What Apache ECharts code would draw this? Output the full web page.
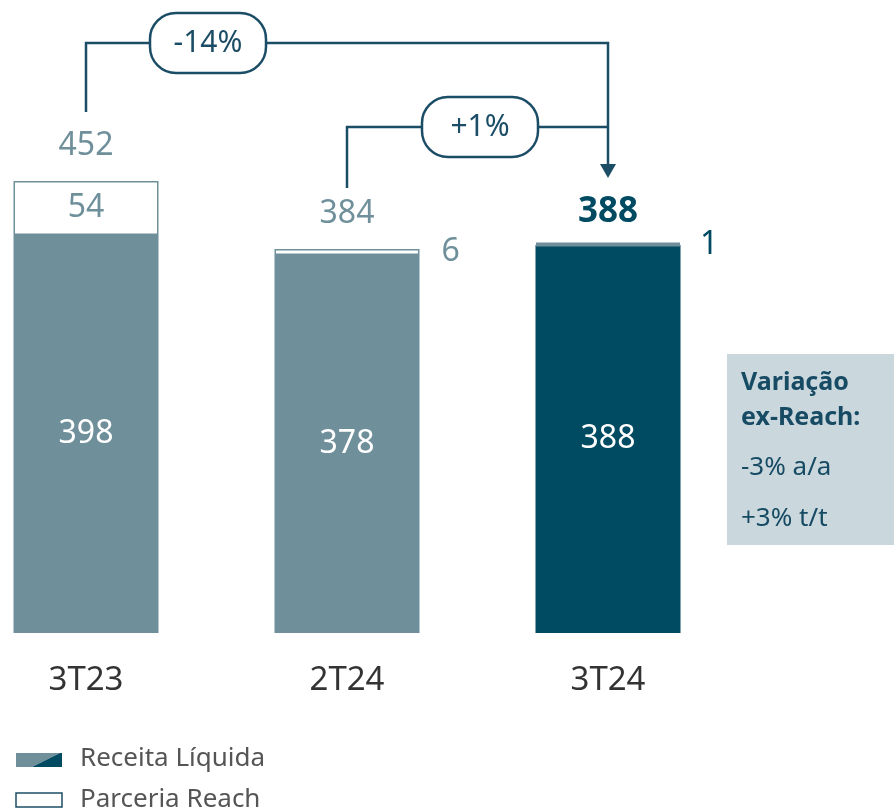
<!DOCTYPE html>
<html>
<head>
<meta charset="utf-8">
<script src="https://cdn.jsdelivr.net/npm/echarts@6/dist/echarts.min.js"></script>
<style>
  html, body { margin: 0; padding: 0; background: #fff; }
  #chart { width: 894px; height: 812px; }
</style>
</head>
<body>
<div id="chart"></div>
<script>
// dados
const categories = ['3T23', '2T24', '3T24'];
const receita = [398, 378, 388];
const reach = [54, 6, 1];
const totals = [452, 384, 388];
const variacoes = ['-14%', '+1%'];
const boxTitle = ['Variação', 'ex-Reach:'];
const boxLines = ['-3% a/a', '+3% t/t'];
const legendNames = ['Receita Líquida', 'Parceria Reach'];

const LIGHT = '#6f909b';
const DARK = '#004a62';
const LINE = '#1b4d66';
const FONT = '"Noto Sans", sans-serif';

let chart = echarts.init(document.getElementById('chart'));

let option = {
  animation: false,
  grid: { left: 86, right: 286, top: 33, bottom: 179 },
  xAxis: {
    type: 'category',
    data: categories,
    boundaryGap: false,
    axisLine: { show: false },
    axisTick: { show: false },
    axisLabel: { fontSize: 33, color: '#333', margin: 31, fontFamily: FONT }
  },
  yAxis: { type: 'value', min: 0, max: 600, show: false },
  series: [
    {
      name: legendNames[0],
      type: 'bar',
      stack: 'a',
      barWidth: 145,
      clip: false,
      data: receita.map((v, i) => ({
        value: v,
        itemStyle: { color: i === 2 ? DARK : LIGHT }
      })),
      label: {
        show: true, position: 'inside', color: '#fff',
        fontSize: 32, fontFamily: FONT
      }
    },
    {
      name: legendNames[1],
      type: 'bar',
      stack: 'a',
      barWidth: 145,
      clip: false,
      data: reach.map((v, i) => {
        if (i === 0) {
          return {
            value: v,
            itemStyle: { color: '#fff', borderColor: LIGHT, borderWidth: 1.5 },
            label: { show: true, position: 'inside', color: LIGHT }
          };
        }
        if (i === 1) {
          return {
            value: v,
            itemStyle: { color: '#fff', borderColor: LIGHT, borderWidth: 1.5 },
            label: { show: true, position: 'right', distance: 22, color: LIGHT }
          };
        }
        return {
          value: v,
          itemStyle: { color: LIGHT, borderColor: LIGHT, borderWidth: 4 },
          label: { show: true, position: 'right', distance: 18, color: DARK }
        };
      }),
      label: { fontSize: 32, fontFamily: FONT }
    },
    {
      type: 'scatter',
      symbolSize: 0,
      clip: false,
      itemStyle: { opacity: 1 },
      data: totals.map((v, i) => ({
        value: v,
        label: i === 2 ? { color: DARK, fontWeight: 'bold', fontSize: 35, distance: 15 } : {}
      })),
      label: {
        show: true, position: 'top', distance: 19,
        fontSize: 32, color: LIGHT, fontFamily: FONT
      }
    }
  ]
};
chart.setOption(option);

// anotações de variação
function px(i, v) {
  return chart.convertToPixel({ gridIndex: 0 }, [i, v]);
}
let p0 = px(0, totals[0]);
let p1 = px(1, totals[1]);
let p2 = px(2, totals[2]);
let topY = 43, midY = 127;
let tipY = p2[1] - 67;

function pill(cx, cy, text) {
  return {
    type: 'group',
    children: [
      {
        type: 'rect',
        shape: { x: cx - 58, y: cy - 30, width: 116, height: 60, r: 26 },
        style: { fill: '#fff', stroke: LINE, lineWidth: 2.5 }
      },
      {
        type: 'text',
        x: cx, y: cy,
        style: {
          text: text, fill: LINE, font: '30px ' + FONT,
          textAlign: 'center', textVerticalAlign: 'middle'
        }
      }
    ]
  };
}

let graphics = [
  {
    type: 'polyline',
    shape: { points: [[p0[0], p0[1] - 69], [p0[0], topY], [p2[0], topY], [p2[0], tipY - 12]] },
    style: { stroke: LINE, lineWidth: 2.5, fill: null }
  },
  {
    type: 'polyline',
    shape: { points: [[p1[0], p1[1] - 61], [p1[0], midY], [p2[0], midY]] },
    style: { stroke: LINE, lineWidth: 2.5, fill: null }
  },
  {
    type: 'polygon',
    shape: { points: [[p2[0] - 8, tipY - 14], [p2[0] + 8, tipY - 14], [p2[0], tipY]] },
    style: { fill: LINE }
  },
  pill(208, topY, variacoes[0]),
  pill(480, midY, variacoes[1]),
  // caixa ex-Reach
  {
    type: 'rect',
    shape: { x: 727, y: 354, width: 167, height: 191 },
    style: { fill: '#cad8de' }
  },
  {
    type: 'text', x: 741, y: 383,
    style: { text: boxTitle[0], fill: '#174a63', font: 'bold 25px ' + FONT, textVerticalAlign: 'middle' }
  },
  {
    type: 'text', x: 741, y: 418,
    style: { text: boxTitle[1], fill: '#174a63', font: 'bold 25px ' + FONT, textVerticalAlign: 'middle' }
  },
  {
    type: 'text', x: 741, y: 468,
    style: { text: boxLines[0], fill: '#174a63', font: '26px ' + FONT, textVerticalAlign: 'middle' }
  },
  {
    type: 'text', x: 741, y: 519,
    style: { text: boxLines[1], fill: '#174a63', font: '26px ' + FONT, textVerticalAlign: 'middle' }
  },
  // legenda
  {
    type: 'polygon',
    shape: { points: [[16, 753], [60, 753], [32, 767], [16, 767]] },
    style: { fill: LIGHT }
  },
  {
    type: 'polygon',
    shape: { points: [[60, 753], [62, 753], [62, 767], [32, 767]] },
    style: { fill: DARK }
  },
  {
    type: 'text', x: 80, y: 759,
    style: { text: legendNames[0], fill: '#555', font: '26px ' + FONT, textVerticalAlign: 'middle' }
  },
  {
    type: 'rect',
    shape: { x: 16, y: 793, width: 46, height: 14 },
    style: { fill: '#fff', stroke: LINE, lineWidth: 1.5 }
  },
  {
    type: 'text', x: 80, y: 800,
    style: { text: legendNames[1], fill: '#555', font: '26px ' + FONT, textVerticalAlign: 'middle' }
  }
];
chart.setOption({ graphic: graphics });
</script>
</body>
</html>
